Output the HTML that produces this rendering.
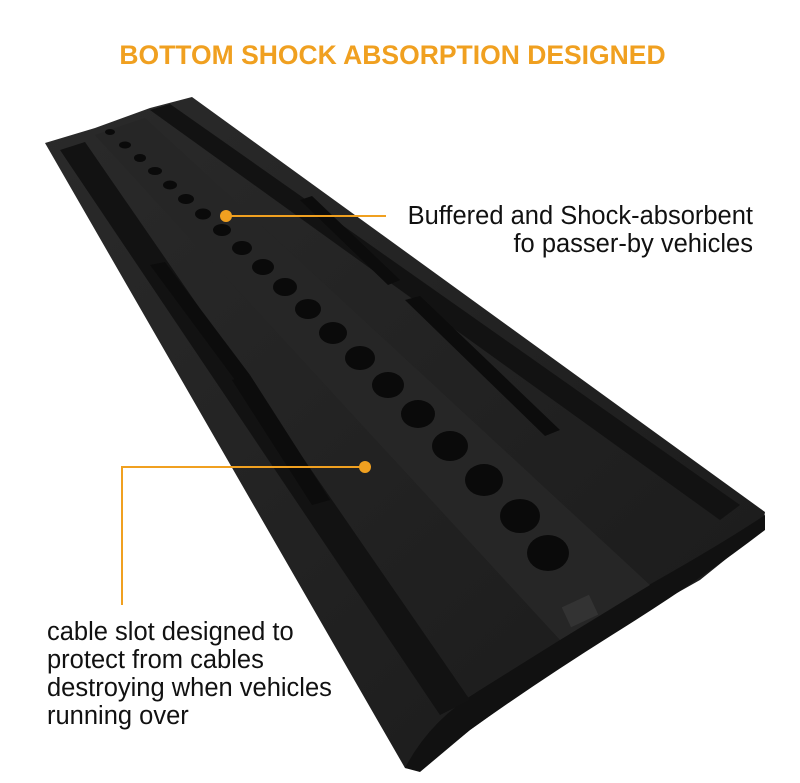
<!DOCTYPE html>
<html><head><style>
html,body{margin:0;padding:0;background:#fff;}
body{width:800px;height:783px;position:relative;overflow:hidden;font-family:"Liberation Sans",sans-serif;}
.t{position:absolute;color:#111;font-size:25.5px;line-height:28px;}
</style></head><body>
<svg width="800" height="783" style="position:absolute;left:0;top:0">
<defs>
<linearGradient id="g" x1="0" y1="0" x2="1" y2="1">
<stop offset="0" stop-color="#2a2a2a"/><stop offset="1" stop-color="#1a1a1a"/>
</linearGradient>
</defs>
<polygon points="45,143 95,128 150,108 192,97 765,512 762,530 700,580 620,625 540,680 470,730 420,770 405,768" fill="url(#g)"/>
<path d="M405,768 Q430,720 480,690 Q560,640 640,590 Q720,545 765,515 L765,530 Q700,580 620,630 Q540,680 470,730 L420,772 Z" fill="#111"/>
<polygon points="60,150 85,142 470,700 440,715" fill="#121212"/>
<polygon points="150,110 170,104 740,505 720,520" fill="#121212"/>
<polygon points="95,135 145,118 650,585 560,640" fill="#262626"/>
<polygon points="150,265 165,262 250,375 235,380" fill="#0c0c0c"/>
<polygon points="232,380 250,375 330,500 312,505" fill="#0c0c0c"/>
<polygon points="405,300 420,296 560,430 545,436" fill="#0c0c0c"/>
<polygon points="300,200 312,196 400,280 388,285" fill="#0c0c0c"/>
<g fill="#0a0a0a">
<ellipse cx="110" cy="132" rx="5" ry="3"/>
<ellipse cx="125" cy="145" rx="6" ry="3.5"/>
<ellipse cx="140" cy="158" rx="6" ry="4"/>
<ellipse cx="155" cy="171" rx="7" ry="4"/>
<ellipse cx="170" cy="185" rx="7" ry="4.5"/>
<ellipse cx="186" cy="199" rx="8" ry="5"/>
<ellipse cx="203" cy="214" rx="8" ry="5.5"/>
<ellipse cx="222" cy="230" rx="9" ry="6"/>
<ellipse cx="242" cy="248" rx="10" ry="7"/>
<ellipse cx="263" cy="267" rx="11" ry="8"/>
<ellipse cx="285" cy="287" rx="12" ry="9"/>
<ellipse cx="308" cy="309" rx="13" ry="10"/>
<ellipse cx="333" cy="333" rx="14" ry="11"/>
<ellipse cx="360" cy="358" rx="15" ry="12"/>
<ellipse cx="388" cy="385" rx="16" ry="13"/>
<ellipse cx="418" cy="414" rx="17" ry="14"/>
<ellipse cx="450" cy="446" rx="18" ry="15"/>
<ellipse cx="484" cy="480" rx="19" ry="16"/>
<ellipse cx="520" cy="516" rx="20" ry="17"/>
<ellipse cx="548" cy="553" rx="21" ry="18"/>
</g>
<rect x="565" y="600" width="30" height="22" fill="#333" transform="rotate(-25 580 611)"/>
<g stroke="#f0a020" stroke-width="2" fill="none">
<line x1="226" y1="216" x2="386" y2="216"/>
<polyline points="365,467 122,467 122,605"/>
</g>
<circle cx="226" cy="216" r="6" fill="#f0a020"/>
<circle cx="365" cy="467" r="6" fill="#f0a020"/>
</svg>
<div style="position:absolute;left:0;width:785px;top:40px;text-align:center;color:#f0a020;font-weight:bold;font-size:26.5px;">BOTTOM SHOCK ABSORPTION DESIGNED</div>
<div class="t" style="right:47px;top:202px;text-align:right">Buffered and Shock-absorbent<br>fo passer-by vehicles</div>
<div class="t" style="left:47px;top:618px">cable slot designed to<br>protect from cables<br>destroying when vehicles<br>running over</div>
</body></html>
